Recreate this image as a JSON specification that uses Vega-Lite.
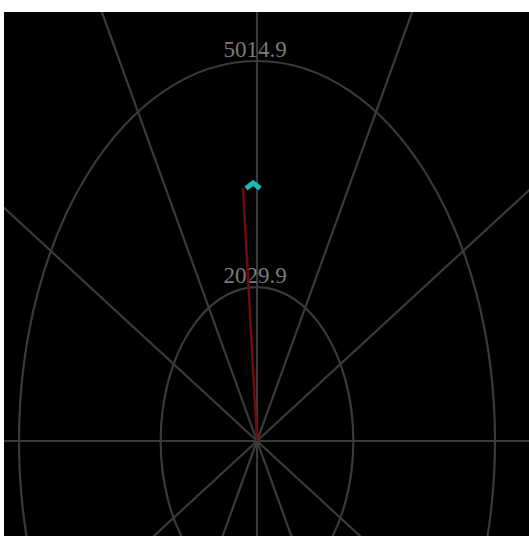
{
  "$schema": "https://vega.github.io/schema/vega-lite/v6.json",
  "width": 525,
  "height": 524,
  "autosize": {"type": "none"},
  "padding": {"left": 4, "top": 12, "right": 0, "bottom": 0},
  "background": "white",
  "config": {"view": {"fill": "black", "stroke": null}},
  "layer": [
    {
      "data": {"values": [
        {"x": 0, "y": 8000, "x2": 0, "y2": -8000},
        {"x": 4000, "y": 6928, "x2": -4000, "y2": -6928},
        {"x": 6928, "y": 4000, "x2": -6928, "y2": -4000},
        {"x": 8000, "y": 0, "x2": -8000, "y2": 0},
        {"x": 6928, "y": -4000, "x2": -6928, "y2": 4000},
        {"x": 4000, "y": -6928, "x2": -4000, "y2": 6928}
      ]},
      "mark": {"type": "rule", "clip": true, "color": "#3a3a3a", "strokeWidth": 2.2},
      "encoding": {
        "x": {"field": "x", "type": "quantitative", "scale": {"domain": [-5331, 5731], "nice": false, "zero": false}, "axis": null},
        "y": {"field": "y", "type": "quantitative", "scale": {"domain": [-1254, 5662], "nice": false, "zero": false}, "axis": null},
        "x2": {"field": "x2"},
        "y2": {"field": "y2"}
      }
    },
    {
      "data": {"values": [
        {"x": 0, "y": 0, "r": 2029.9, "label": "2029.9"},
        {"x": 0, "y": 0, "r": 5014.9, "label": "5014.9"}
      ]},
      "mark": {"type": "point", "clip": true, "filled": false, "stroke": "#3a3a3a", "strokeWidth": 2.2, "opacity": 1,
        "shape": "M -0.6263 0 A 0.6263 1 0 1 0 0.6263 0 A 0.6263 1 0 1 0 -0.6263 0 Z"},
      "encoding": {
        "x": {"field": "x", "type": "quantitative", "scale": {"domain": [-5331, 5731], "nice": false, "zero": false}, "axis": null},
        "y": {"field": "y", "type": "quantitative", "scale": {"domain": [-1254, 5662], "nice": false, "zero": false}, "axis": null},
        "size": {"field": "r", "type": "quantitative", "scale": {"type": "pow", "exponent": 2, "domain": [0, 5014.9], "range": [0, 577600], "zero": true}, "legend": null}
      }
    },
    {
      "data": {"values": [
        {"x": 0, "y": 2029.9, "label": "2029.9"},
        {"x": 0, "y": 5014.9, "label": "5014.9"}
      ]},
      "mark": {"type": "text", "color": "#7a7a7a", "font": "Liberation Serif", "fontSize": 23, "baseline": "alphabetic", "dy": -4, "dx": -2},
      "encoding": {
        "x": {"field": "x", "type": "quantitative", "scale": {"domain": [-5331, 5731], "nice": false, "zero": false}, "axis": null},
        "y": {"field": "y", "type": "quantitative", "scale": {"domain": [-1254, 5662], "nice": false, "zero": false}, "axis": null},
        "text": {"field": "label"}
      }
    },
    {
      "data": {"values": [
        {"x": 0, "y": 0, "x2": -295, "y2": 3339}
      ]},
      "mark": {"type": "rule", "color": "#6e0b0b", "strokeWidth": 2.5},
      "encoding": {
        "x": {"field": "x", "type": "quantitative", "scale": {"domain": [-5331, 5731], "nice": false, "zero": false}, "axis": null},
        "y": {"field": "y", "type": "quantitative", "scale": {"domain": [-1254, 5662], "nice": false, "zero": false}, "axis": null},
        "x2": {"field": "x2"},
        "y2": {"field": "y2"}
      }
    },
    {
      "data": {"values": [
        {"x": -84, "y": 3378}
      ]},
      "mark": {"type": "point", "filled": false, "stroke": "#1ab8b8", "strokeWidth": 5, "opacity": 1, "size": 196,
        "shape": "M -1 0.5 L 0 -0.3 L 1 0.5"},
      "encoding": {
        "x": {"field": "x", "type": "quantitative", "scale": {"domain": [-5331, 5731], "nice": false, "zero": false}, "axis": null},
        "y": {"field": "y", "type": "quantitative", "scale": {"domain": [-1254, 5662], "nice": false, "zero": false}, "axis": null}
      }
    }
  ]
}
